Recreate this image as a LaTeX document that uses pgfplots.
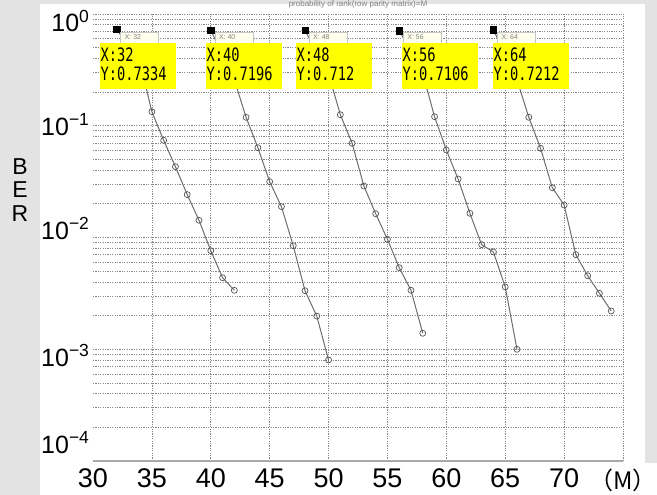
\documentclass[border=0pt]{standalone}
\usepackage{fontspec}
\setmainfont{Liberation Sans}
\newfontfamily\cjk{Noto Sans CJK JP}
\newfontfamily\tipfont[FakeStretch=0.74]{DejaVu Sans Mono}
\usepackage{pgfplots}
\pgfplotsset{compat=1.18}
\definecolor{bggray}{RGB}{227,227,227}
\definecolor{gridgray}{RGB}{135,135,135}
\definecolor{curvegray}{RGB}{110,110,110}
\definecolor{markgray}{RGB}{85,85,85}
\definecolor{tipyellow}{RGB}{255,255,0}
\definecolor{tipcream}{RGB}{255,255,238}
\definecolor{axisgray}{RGB}{170,170,170}
\newcommand{\ylab}[2]{\raisebox{#1}[0pt][0pt]{10\textsuperscript{#2}}}
\begin{document}
\begin{tikzpicture}[x=1pt,y=1pt]
\fill[bggray] (0,0) rectangle (657,495);
\fill[white] (40,0) rectangle (645,491);
\fill[white] (645,0) rectangle (657,32);
\node[anchor=base, text=gray, font=\fontsize{8}{9}\selectfont, inner sep=0] at (358,488.5) {probability of rank(row parity matrix)=M};
\begin{axis}[
  at={(93pt,34pt)}, anchor=south west,
  width=530pt, height=447pt, scale only axis,
  xmin=30, xmax=75, ymode=log, ymin=1e-4, ymax=1,
  axis x line=bottom, axis y line=left,
  x axis line style={-, draw=axisgray, line width=2pt},
  y axis line style={draw=none},
  xtick={35,40,45,50,55,60,65,70,75},
  xticklabels={35,40,45,50,55,60,65,70,{}},
  extra x ticks={30}, extra x tick labels={30},
  extra x tick style={grid=none},
  ytick={1e-4,1e-3,1e-2,1e-1,1},
  yticklabels={\ylab{8pt}{−4},\ylab{-16.75pt}{−3},\ylab{-1.5pt}{−2},\ylab{-9.25pt}{−1},\ylab{-17.5pt}{0}},
  grid=both,
  major grid style={gridgray, dash pattern=on 1.2pt off 1.2pt, line width=0.75pt},
  minor grid style={gridgray, dash pattern=on 1.2pt off 1.2pt, line width=0.75pt},
  major tick length=0pt, minor tick length=0pt,
  xticklabel style={font=\fontsize{27}{30}\selectfont, yshift=-4pt},
  yticklabel style={font=\fontsize{25}{28}\selectfont},
  curve/.style={curvegray, line width=1pt, mark=o, mark size=3pt,
     mark options={solid, draw=markgray, line width=0.7pt}},
]
\addplot[curve] coordinates {(32,0.7334)(33,0.517)(34,0.367)(35,0.1336)(36,0.0741)(37,0.0430)(38,0.0242)(39,0.01426)(40,0.00762)(41,0.00437)(42,0.00337)};
\addplot[curve] coordinates {(40,0.7196)(41,0.43)(42,0.258)(43,0.119)(44,0.0636)(45,0.0316)(46,0.0189)(47,0.00845)(48,0.00334)(49,0.00198)(50,0.000801)};
\addplot[curve] coordinates {(48,0.712)(49,0.457)(50,0.292)(51,0.1256)(52,0.0697)(53,0.0289)(54,0.01633)(55,0.00964)(56,0.00537)(57,0.00337)(58,0.00139)};
\addplot[curve] coordinates {(56,0.7106)(57,0.457)(58,0.294)(59,0.1205)(60,0.0607)(61,0.0334)(62,0.01647)(63,0.00862)(64,0.00742)(65,0.00361)(66,0.000999)};
\addplot[curve] coordinates {(64,0.7212)(65,0.43)(66,0.258)(67,0.119)(68,0.0628)(69,0.0279)(70,0.01954)(71,0.00702)(72,0.00455)(73,0.00317)(74,0.00220)};
\addplot[only marks, mark=square*, mark size=3.2pt, mark options={solid, fill=black, draw=black}] coordinates {(32,0.7334)(40,0.7196)(48,0.712)(56,0.7106)(64,0.7212)};
\end{axis}
% small original data tips
\foreach \m/\v in {116.6/32, 210.8/40, 305/48, 399.2/56, 493.4/64}{
  \filldraw[fill=tipcream, draw=gray!45, line width=0.5pt] (\m+4,449) rectangle (\m+42,463);
  \node[anchor=base west, inner sep=0, text=gray, font=\fontsize{7}{8}\selectfont] at (\m+8,455) {X: \v};
}
% yellow overlay tips
\foreach \L/\a/\b in {100/32/0.7334, 206/40/0.7196, 296/48/0.712, 402/56/0.7106, 493/64/0.7212}{
  \fill[tipyellow] (\L,406) rectangle (\L+76,452);
  \node[anchor=base west, inner sep=0, font=\tipfont\fontsize{18.5}{20}\selectfont] at (\L+0.5,433.5) {X:\a};
  \node[anchor=base west, inner sep=0, font=\tipfont\fontsize{18.5}{20}\selectfont] at (\L+0.5,414) {Y:\b};
}
\node[align=center, inner sep=0, font=\fontsize{23}{23.5}\selectfont] at (20,305) {B\\E\\R};
\node[inner sep=0, anchor=east, font=\cjk\fontsize{24}{26}\selectfont] at (657,15) {（M）};
\pgfresetboundingbox
\useasboundingbox (0,0) rectangle (657,495);
\end{tikzpicture}
\end{document}
